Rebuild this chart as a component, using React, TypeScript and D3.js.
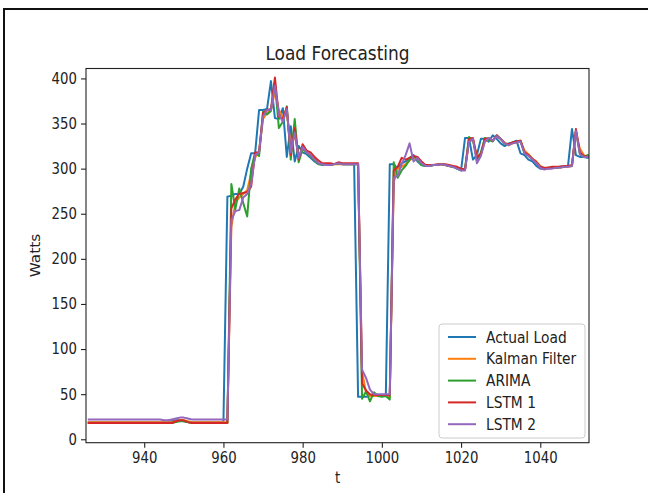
import React, { useEffect, useRef } from "react";
import * as d3 from "d3";

// time steps 926..1052
const tStart = 926;

const actualLoad = [
  19, 19, 19, 19, 19, 19, 19, 19, 19, 19,
  19, 19, 19, 19, 19, 19, 19, 19, 19, 19,
  19, 20, 21, 21, 20, 19, 19, 19, 19, 19,
  19, 19, 19, 19, 19,
  269, 270, 272, 272, 280, 300, 317, 317, 365, 365,
  366, 397, 356, 355, 367, 313, 347, 308, 325, 318,
  316, 312, 308, 305, 304, 305, 304, 305, 306, 305,
  305, 305, 305, 47, 47, 47, 48, 48, 48, 48,
  48, 305, 305, 300, 306, 308, 312, 315, 308, 304,
  303, 303, 304, 304, 305, 304, 303, 302, 300, 298,
  334, 334, 310, 315, 333, 333, 330, 337, 333, 328,
  325, 328, 329, 331, 317, 315, 310, 308, 303, 300,
  300, 301, 301, 301, 302, 302, 303, 344, 315, 313,
  313, 312,
];

const kalmanFilter = [
  19, 19, 19, 19, 19, 19, 19, 19, 19, 19,
  19, 19, 19, 19, 19, 19, 19, 19, 19, 19,
  19, 19, 20, 21, 21, 20, 19, 19, 19, 19,
  19, 19, 19, 19, 19,
  19, 235, 262, 268, 272, 276, 295, 312, 320, 355,
  362, 365, 385, 365, 357, 362, 325, 338, 312, 322,
  318, 315, 310, 306, 305, 305, 304, 305, 305, 305,
  305, 305, 305, 305, 75, 52, 48, 48, 48, 48,
  48, 48, 285, 300, 302, 305, 309, 313, 310, 305,
  303, 303, 304, 304, 305, 304, 303, 302, 301, 299,
  299, 330, 332, 314, 316, 330, 333, 331, 336, 333,
  329, 326, 328, 329, 331, 320, 316, 311, 308, 303,
  300, 300, 301, 301, 301, 302, 302, 303, 340, 322,
  315, 313,
];

const arima = [
  18, 18, 18, 18, 18, 18, 18, 18, 18, 18,
  18, 18, 18, 18, 18, 18, 18, 18, 18, 18,
  18, 18, 19, 20, 20, 19, 18, 18, 18, 18,
  18, 18, 18, 18, 18,
  18, 283, 255, 278, 262, 247, 300, 318, 314, 363,
  360, 364, 395, 345, 352, 369, 310, 355, 307, 322,
  318, 314, 309, 305, 305, 305, 304, 305, 306, 305,
  305, 305, 305, 305, 45, 53, 42, 52, 48, 47,
  48, 44, 307, 290, 298, 303, 310, 313, 311, 304,
  303, 303, 304, 304, 305, 304, 303, 302, 300, 298,
  300, 335, 332, 310, 318, 334, 332, 330, 337, 333,
  328, 326, 329, 330, 331, 317, 315, 310, 307, 302,
  300, 301, 301, 301, 302, 302, 303, 303, 342, 316,
  313, 315,
];

const lstm1 = [
  18, 18, 18, 18, 18, 18, 18, 18, 18, 18,
  18, 18, 18, 18, 18, 18, 18, 18, 18, 18,
  18, 18, 20, 21, 21, 19, 18, 18, 18, 18,
  18, 18, 18, 18, 18,
  18, 256, 266, 272, 273, 274, 280, 318, 318, 362,
  365, 366, 401, 358, 355, 368, 315, 345, 310, 327,
  320, 318, 313, 309, 306, 306, 306, 305, 307, 306,
  306, 306, 306, 306, 62, 54, 50, 49, 49, 49,
  49, 49, 298, 302, 312, 310, 312, 314, 313, 308,
  304, 304, 304, 305, 305, 305, 304, 303, 302, 300,
  299, 333, 334, 312, 316, 333, 334, 331, 337, 333,
  328, 327, 329, 330, 331, 318, 315, 311, 307, 302,
  301, 301, 302, 302, 302, 303, 303, 304, 344, 318,
  314, 313,
];

const lstm2 = [
  22, 22, 22, 22, 22, 22, 22, 22, 22, 22,
  22, 22, 22, 22, 22, 22, 22, 22, 22, 21,
  21, 22, 23, 24, 24, 23, 22, 22, 22, 22,
  22, 22, 22, 22, 22,
  22, 243, 253, 254, 268, 272, 283, 315, 318, 358,
  365, 365, 392, 360, 352, 366, 318, 340, 312, 324,
  318, 315, 310, 306, 305, 304, 304, 305, 306, 305,
  305, 305, 305, 305, 77, 68, 55, 50, 50, 50,
  50, 50, 290, 292, 305, 315, 328, 308, 312, 306,
  303, 303, 304, 304, 305, 304, 303, 302, 300, 298,
  298, 330, 333, 306, 314, 330, 334, 331, 336, 333,
  328, 326, 328, 329, 330, 317, 314, 310, 306, 301,
  299, 300, 300, 301, 301, 302, 302, 303, 342, 316,
  313, 313,
];

const seriesNames = ["Actual Load", "Kalman Filter", "ARIMA", "LSTM 1", "LSTM 2"];
const seriesValues = [actualLoad, kalmanFilter, arima, lstm1, lstm2];
const seriesColors = ["#1f77b4", "#ff7f0e", "#2ca02c", "#d62728", "#9467bd"];

const xTicks = [940, 960, 980, 1000, 1020, 1040];
const yTicks = [0, 50, 100, 150, 200, 250, 300, 350, 400];

const App = () => {
  const chartRef = useRef<SVGSVGElement>(null);

  useEffect(() => {
    const width = 648;
    const height = 493;
    const left = 86;
    const right = 589;
    const top = 68.5;
    const bottom = 442.7;
    const font = "DejaVu Sans, sans-serif";
    const stretch = 1.15; // the screenshot is a little taller than wide

    const svg = d3.select(chartRef.current);
    svg.selectAll("*").remove();
    svg.attr("width", width).attr("height", height);

    svg.append("rect").attr("width", width).attr("height", height).attr("fill", "#fff");

    // screenshot frame
    svg
      .append("rect")
      .attr("x", 4)
      .attr("y", 9)
      .attr("width", 660)
      .attr("height", 500)
      .attr("fill", "none")
      .attr("stroke", "#111")
      .attr("stroke-width", 2);

    const x = d3.scaleLinear().domain([925.3, 1052.3]).range([left, right]);
    const y = d3.scaleLinear().domain([-3.8, 411]).range([bottom, top]);

    const line = d3
      .line<number>()
      .x((_, i) => x(tStart + i))
      .y((d) => y(d));

    const plot = svg.append("g");
    plot
      .append("clipPath")
      .attr("id", "plot-clip")
      .append("rect")
      .attr("x", left)
      .attr("y", top)
      .attr("width", right - left)
      .attr("height", bottom - top);

    plot
      .append("g")
      .attr("clip-path", "url(#plot-clip)")
      .selectAll("path")
      .data(seriesValues)
      .enter()
      .append("path")
      .attr("d", (d) => line(d))
      .attr("fill", "none")
      .attr("stroke", (_, i) => seriesColors[i])
      .attr("stroke-width", 2)
      .attr("stroke-linejoin", "round")
      .attr("stroke-linecap", "square");

    // axes
    const xAxis = svg
      .append("g")
      .attr("transform", `translate(0,${bottom})`)
      .call(d3.axisBottom(x).tickValues(xTicks).tickSize(5).tickPadding(3).tickFormat(d3.format("d")));
    const yAxis = svg
      .append("g")
      .attr("transform", `translate(${left},0)`)
      .call(d3.axisLeft(y).tickValues(yTicks).tickSize(5).tickPadding(4).tickFormat(d3.format("d")));

    [xAxis, yAxis].forEach((g) => {
      g.select(".domain").remove();
      g.selectAll("line").attr("stroke", "#222").attr("stroke-width", 1.1);
      g.selectAll("text")
        .attr("font-family", font)
        .attr("font-size", 13.3)
        .attr("fill", "#222")
        .attr("transform", `scale(1,${stretch})`);
    });

    svg
      .append("rect")
      .attr("x", left)
      .attr("y", top)
      .attr("width", right - left)
      .attr("height", bottom - top)
      .attr("fill", "none")
      .attr("stroke", "#222")
      .attr("stroke-width", 1.1);

    // labels
    svg
      .append("text")
      .attr("transform", `translate(${(left + right) / 2},60) scale(1,${stretch})`)
      .attr("text-anchor", "middle")
      .attr("font-family", font)
      .attr("font-size", 17)
      .attr("fill", "#222")
      .text("Load Forecasting");

    svg
      .append("text")
      .attr("transform", `translate(${(left + right) / 2},483) scale(1,${stretch})`)
      .attr("text-anchor", "middle")
      .attr("font-family", font)
      .attr("font-size", 13.3)
      .attr("fill", "#222")
      .text("t");

    svg
      .append("text")
      .attr("transform", `translate(40,${(top + bottom) / 2}) rotate(-90) scale(${stretch},1)`)
      .attr("text-anchor", "middle")
      .attr("font-family", font)
      .attr("font-size", 13.3)
      .attr("fill", "#222")
      .text("Watts");

    // legend
    const legend = svg.append("g").attr("transform", "translate(439,324)");
    legend
      .append("rect")
      .attr("width", 146)
      .attr("height", 114)
      .attr("rx", 3)
      .attr("fill", "#fff")
      .attr("fill-opacity", 0.8)
      .attr("stroke", "#ccc")
      .attr("stroke-width", 1);

    const items = legend
      .selectAll("g.item")
      .data(seriesNames)
      .enter()
      .append("g")
      .attr("class", "item")
      .attr("transform", (_, i) => `translate(0,${13 + i * 21.8})`);

    items
      .append("line")
      .attr("x1", 9)
      .attr("x2", 37)
      .attr("stroke", (_, i) => seriesColors[i])
      .attr("stroke-width", 2);

    items
      .append("text")
      .attr("x", 47)
      .attr("y", 4.8)
      .attr("transform", `scale(1,${stretch})`)
      .attr("font-family", font)
      .attr("font-size", 13.8)
      .attr("fill", "#222")
      .text((d) => d);
  }, []);

  return (
    <svg
      ref={chartRef}
      style={{ position: "absolute", left: 0, top: 0, display: "block" }}
    ></svg>
  );
};

export default App;
